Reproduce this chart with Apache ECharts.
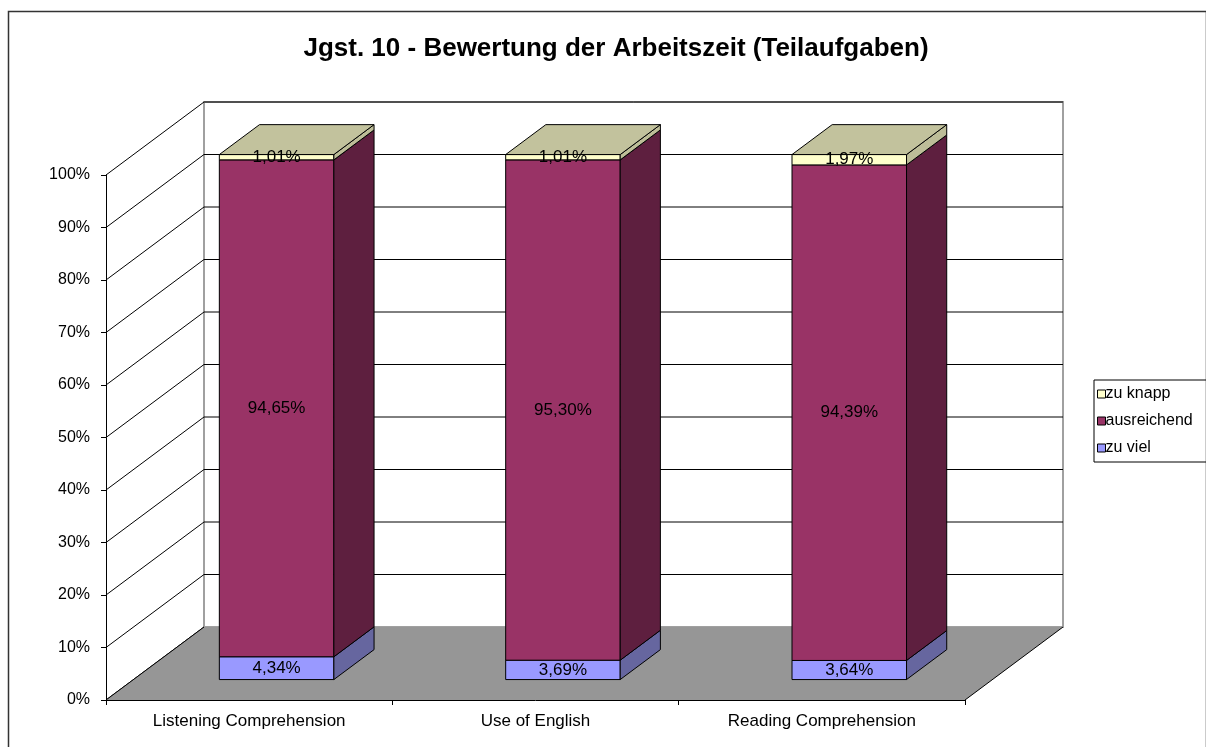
<!DOCTYPE html>
<html>
<head>
<meta charset="utf-8">
<script src="https://cdn.jsdelivr.net/npm/echarts@6/dist/echarts.min.js"></script>
<style>
  html, body { margin: 0; padding: 0; background: #fff; }
  #chart { width: 1206px; height: 747px; }
</style>
</head>
<body>
<div id="chart"></div>
<script>
// data
const categories = ['Listening Comprehension', 'Use of English', 'Reading Comprehension'];
const zuViel = [4.34, 3.69, 3.64];
const ausreichend = [94.65, 95.30, 94.39];
const zuKnapp = [1.01, 1.01, 1.97];
const yTicks = [0, 10, 20, 30, 40, 50, 60, 70, 80, 90, 100];

// fake 3d: depth offset in px and bar placement in the depth
const DX = 98, DY = -73;
const D0 = 0.28, D1 = 0.69;
const BAR_W = 0.4;

const FONT = 'Liberation Sans, Arial, sans-serif';

function fmt(v) {
  return v.toFixed(2).replace('.', ',') + '%';
}

// build stacked segments [cat, start, end, value]
function stackData(vals, below) {
  return vals.map(function (v, i) {
    const s = below.reduce(function (a, arr) { return a + arr[i]; }, 0);
    return [i, s, s + v, v];
  });
}

function shift(p, d) {
  return [p[0] + d * DX, p[1] + d * DY];
}

function barRender(front, side, top, isTop) {
  return function (params, api) {
    const cat = api.value(0);
    const pb = api.coord([cat, api.value(1)]);
    const pt = api.coord([cat, api.value(2)]);
    const hw = api.size([1, 0])[0] * BAR_W / 2;
    const bl = shift([pb[0] - hw, pb[1]], D0);
    const br = shift([pb[0] + hw, pb[1]], D0);
    const tl = shift([pt[0] - hw, pt[1]], D0);
    const tr = shift([pt[0] + hw, pt[1]], D0);
    const dd = D1 - D0;
    const children = [
      { type: 'polygon', shape: { points: [bl, br, tr, tl] },
        style: { fill: front, stroke: '#000', lineWidth: 1 } },
      { type: 'polygon', shape: { points: [br, shift(br, dd), shift(tr, dd), tr] },
        style: { fill: side, stroke: '#000', lineWidth: 1 } }
    ];
    if (isTop) {
      children.push({ type: 'polygon', shape: { points: [tl, tr, shift(tr, dd), shift(tl, dd)] },
        style: { fill: top, stroke: '#000', lineWidth: 1 } });
    }
    children.push({
      type: 'text',
      style: {
        text: fmt(api.value(3)),
        x: (bl[0] + br[0]) / 2,
        y: (bl[1] + tl[1]) / 2,
        align: 'center', verticalAlign: 'middle',
        fill: '#000', font: '17px ' + FONT
      }
    });
    return { type: 'group', children: children };
  };
}

function frameRender(params, api) {
  const band = api.size([1, 0])[0];
  const x0 = api.coord([0, 0])[0] - band / 2;
  const x1 = x0 + band * categories.length;
  const y0 = api.coord([0, 0])[1];
  const yTop = api.coord([0, yTicks[yTicks.length - 1]])[1];
  const children = [];
  // left wall
  children.push({ type: 'polygon',
    shape: { points: [[x0, y0], [x0, yTop], shift([x0, yTop], 1), shift([x0, y0], 1)] },
    style: { fill: '#fff' } });
  // back wall
  children.push({ type: 'polygon',
    shape: { points: [shift([x0, y0], 1), shift([x0, yTop], 1), shift([x1, yTop], 1), shift([x1, y0], 1)] },
    style: { fill: '#fff', stroke: '#a0a0a0', lineWidth: 2 } });
  yTicks.forEach(function (t) {
    const y = api.coord([0, t])[1];
    children.push({ type: 'line',
      shape: { x1: x0, y1: y, x2: x0 + DX, y2: y + DY },
      style: { stroke: '#000', lineWidth: 1 } });
    if (t > 0) {
      children.push({ type: 'line',
        shape: { x1: x0 + DX, y1: y + DY, x2: x1 + DX, y2: y + DY },
        style: { stroke: '#000', lineWidth: 1 } });
    }
  });
  // floor
  children.push({ type: 'polygon',
    shape: { points: [[x0, y0], [x1, y0], shift([x1, y0], 1), shift([x0, y0], 1)] },
    style: { fill: '#969696' } });
  children.push({ type: 'line',
    shape: { x1: x0, y1: y0, x2: x0 + DX, y2: y0 + DY },
    style: { stroke: '#000', lineWidth: 1 } });
  children.push({ type: 'line',
    shape: { x1: x1, y1: y0, x2: x1 + DX, y2: y0 + DY },
    style: { stroke: '#000', lineWidth: 1 } });
  return { type: 'group', children: children };
}

const chart = echarts.init(document.getElementById('chart'));

chart.setOption({
  animation: false,
  backgroundColor: '#fff',
  textStyle: { fontFamily: FONT },
  title: {
    text: 'Jgst. 10 - Bewertung der Arbeitszeit (Teilaufgaben)',
    left: 611, textAlign: 'center', top: 31,
    textStyle: { fontSize: 26, fontWeight: 'bold', color: '#000', fontFamily: FONT }
  },
  graphic: [{
    type: 'rect', left: 6, top: 9, z: -10,
    shape: { width: 1198, height: 760 },
    style: { fill: 'none', stroke: '#333', lineWidth: 1.5 }
  }],
  legend: {
    orient: 'vertical',
    left: 1094, top: 380,
    data: ['zu knapp', 'ausreichend', 'zu viel'],
    icon: 'rect', itemWidth: 8, itemHeight: 8, itemGap: 11,
    padding: [6, 15, 6, 3],
    borderColor: '#000', borderWidth: 1,
    itemStyle: { borderColor: '#000', borderWidth: 1 },
    textStyle: { fontSize: 16, color: '#000', padding: [0, 0, 0, -5] }
  },
  grid: { left: 106, top: 175, width: 859, height: 525 },
  xAxis: {
    type: 'category',
    data: categories,
    axisLine: { lineStyle: { color: '#000', width: 1 } },
    axisTick: { show: true, length: 5, lineStyle: { color: '#000' } },
    axisLabel: { fontSize: 17, color: '#000', margin: 13 },
    z: 10
  },
  yAxis: {
    type: 'value', min: 0, max: 100, interval: 10,
    axisLine: { show: true, lineStyle: { color: '#000', width: 1 } },
    axisTick: { show: true, length: 5, lineStyle: { color: '#000' } },
    axisLabel: { fontSize: 16, color: '#000', margin: 16, formatter: '{value}%' },
    splitLine: { show: false },
    z: 10
  },
  series: [
    {
      name: 'frame', type: 'custom', z: 1, silent: true,
      data: [[0, 0]], renderItem: frameRender
    },
    {
      name: 'zu viel', type: 'custom', z: 2,
      itemStyle: { color: '#9999FF' },
      data: stackData(zuViel, []),
      renderItem: barRender('#9999FF', '#66669F', '#7A7ACC', false)
    },
    {
      name: 'ausreichend', type: 'custom', z: 2,
      itemStyle: { color: '#993366' },
      data: stackData(ausreichend, [zuViel]),
      renderItem: barRender('#993366', '#5E1F3F', '#7A2952', false)
    },
    {
      name: 'zu knapp', type: 'custom', z: 2,
      itemStyle: { color: '#FFFFCC' },
      data: stackData(zuKnapp, [zuViel, ausreichend]),
      renderItem: barRender('#FFFFCC', '#BDBD98', '#C2C29D', true)
    }
  ]
});
</script>
</body>
</html>
